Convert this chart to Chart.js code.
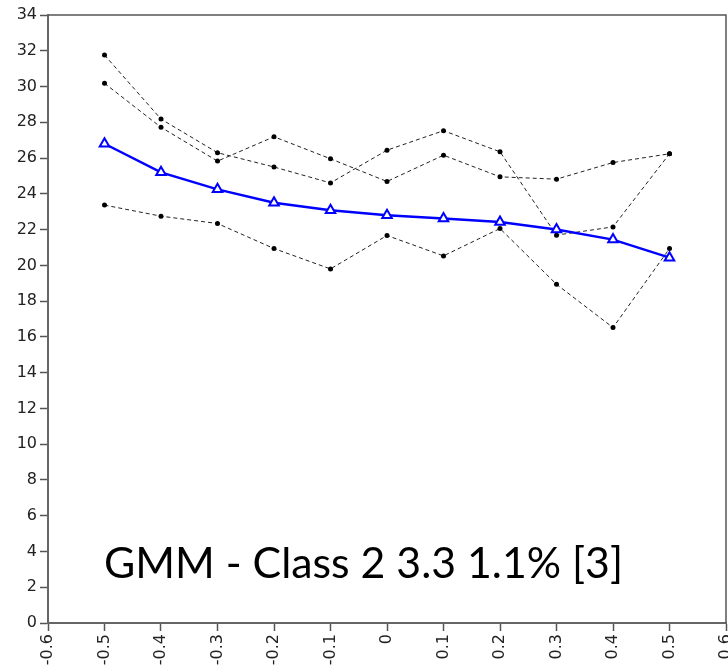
<!DOCTYPE html>
<html>
<head>
<meta charset="utf-8">
<title>GMM - Class 2</title>
<script src="https://cdn.jsdelivr.net/npm/chart.js@4/dist/chart.umd.min.js"></script>
<style>
  html, body { margin: 0; padding: 0; background: #fff; }
  #wrap { position: relative; width: 728px; height: 668px; overflow: hidden; }
  #c { display: block; }
  #note {
    position: absolute; left: 104px; top: 540px;
    font-family: Lato, "Open Sans", sans-serif; font-size: 42.8px; line-height: 43px;
    color: #000; white-space: nowrap;
  }
</style>
</head>
<body>
<div id="wrap">
  <canvas id="c" width="728" height="668"></canvas>
  <div id="note">GMM - Class 2 3.3 1.1% [3]</div>
</div>
<script>
// Time points on the x axis
const timePoints = [-0.5, -0.4, -0.3, -0.2, -0.1, 0, 0.1, 0.2, 0.3, 0.4, 0.5];

// Estimated class trajectory
const classMean = [26.8, 25.2, 24.25, 23.5, 23.08, 22.8, 22.62, 22.43, 22.0, 21.44, 20.43];

// Individual observed trajectories
const caseA = [31.76, 28.18, 26.3, 25.5, 24.61, 26.44, 27.53, 26.35, 21.69, 22.15, 26.24];
const caseB = [30.18, 27.72, 25.83, 27.19, 25.96, 24.69, 26.16, 24.95, 24.82, 25.75, 26.24];
const caseC = [23.37, 22.75, 22.34, 20.94, 19.8, 21.67, 20.53, 22.06, 18.94, 16.52, 20.94];

// Axis ticks
const xTicks = [-0.6, -0.5, -0.4, -0.3, -0.2, -0.1, 0, 0.1, 0.2, 0.3, 0.4, 0.5, 0.6];
const xTickLabels = ['-0.6', '-0.5', '-0.4', '-0.3', '-0.2', '-0.1', '0', '0.1', '0.2', '0.3', '0.4', '0.5', '0.6'];
const yTicks = [0, 2, 4, 6, 8, 10, 12, 14, 16, 18, 20, 22, 24, 26, 28, 30, 32, 34];

const toPoints = ys => timePoints.map((x, i) => ({ x, y: ys[i] }));

const dashedCase = ys => ({
  data: toPoints(ys),
  borderColor: '#222',
  borderWidth: 1,
  borderDash: [4, 3],
  pointRadius: 2.5,
  pointBackgroundColor: '#000',
  pointBorderWidth: 0,
  pointHoverRadius: 2.5,
  tension: 0
});

// Outer frame on the top and right of the plot area
const framePlugin = {
  id: 'frame',
  beforeDatasetsDraw(chart) {
    const { ctx, chartArea: a } = chart;
    ctx.save();
    ctx.strokeStyle = '#555';
    ctx.lineWidth = 1.5;
    ctx.beginPath();
    ctx.moveTo(a.left, a.top);
    ctx.lineTo(a.right, a.top);
    ctx.lineTo(a.right, a.bottom);
    ctx.stroke();
    ctx.restore();
  }
};

const tickFont = { family: '"DejaVu Sans", sans-serif', size: 16 };

new Chart(document.getElementById('c'), {
  type: 'line',
  data: {
    datasets: [
      {
        data: toPoints(classMean),
        borderColor: '#0000ff',
        borderWidth: 2.5,
        pointStyle: 'triangle',
        pointRadius: 5.5,
        pointHoverRadius: 5.5,
        pointBackgroundColor: '#fff',
        pointBorderColor: '#0000ff',
        pointBorderWidth: 2,
        tension: 0
      },
      dashedCase(caseA),
      dashedCase(caseB),
      dashedCase(caseC)
    ]
  },
  options: {
    responsive: false,
    animation: false,
    devicePixelRatio: 1,
    layout: { autoPadding: false, padding: { top: 15, right: 2, left: 0, bottom: 0 } },
    plugins: { legend: { display: false }, tooltip: { enabled: false } },
    scales: {
      x: {
        type: 'linear',
        min: -0.6,
        max: 0.6,
        afterBuildTicks: s => { s.ticks = xTicks.map(v => ({ value: v })); },
        afterFit: s => { s.height = 45; s.paddingLeft = 0; s.paddingRight = 0; },
        ticks: {
          callback: (v, i) => xTickLabels[i],
          minRotation: 90,
          maxRotation: 90,
          autoSkip: false,
          padding: 3,
          color: '#222',
          font: tickFont
        },
        grid: { drawOnChartArea: false, drawTicks: true, tickLength: 8, color: '#555', tickWidth: 1.5 },
        border: { display: true, color: '#666', width: 2 }
      },
      y: {
        type: 'linear',
        min: 0,
        max: 34,
        afterBuildTicks: s => { s.ticks = yTicks.map(v => ({ value: v })); },
        afterFit: s => { s.width = 48; s.paddingTop = 0; s.paddingBottom = 0; },
        ticks: {
          callback: v => String(v),
          autoSkip: false,
          padding: 3,
          color: '#222',
          font: tickFont
        },
        grid: { drawOnChartArea: false, drawTicks: true, tickLength: 8, color: '#555', tickWidth: 1.5 },
        border: { display: true, color: '#666', width: 2 }
      }
    }
  },
  plugins: [framePlugin]
});
</script>
</body>
</html>
